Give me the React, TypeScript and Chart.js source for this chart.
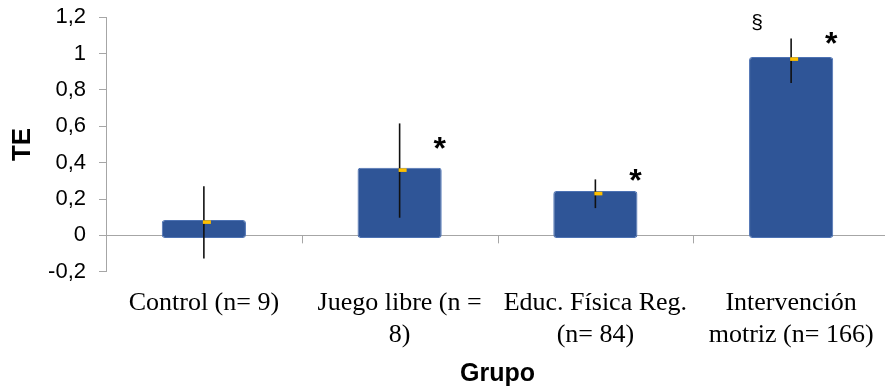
import { useEffect, useRef } from 'react';
import { Chart, registerables } from 'chart.js';

Chart.register(...registerables);

// Groups on the category axis (multi-line labels)
const groupLabels: string[][] = [
  ['Control (n= 9)'],
  ['Juego libre (n =', '8)'],
  ['Educ. Física Reg.', '(n= 84)'],
  ['Intervención', 'motriz (n= 166)'],
];

// Effect size (TE) per group
const effectSizes = [0.084, 0.372, 0.244, 0.981];
// Confidence interval bounds
const ciUpper = [0.27, 0.616, 0.308, 1.084];
const ciLower = [-0.128, 0.097, 0.15, 0.838];
// Small yellow marker inside each bar
const markerValues = [0.073, 0.359, 0.23, 0.97];
// Significance symbols: level on the TE axis (null = none)
const asteriskLevels: (number | null)[] = [null, 0.506, 0.33, 1.084];
const sectionLevels: (number | null)[] = [null, null, null, 1.172];

const Y_MIN = -0.2;
const Y_MAX = 1.2;
const Y_STEP = 0.2;

const AXIS_GREY = '#a6a6a6';

function formatTick(v: number): string {
  const r = Math.round(v * 10) / 10;
  return String(r).replace('.', ',');
}

const overlayPlugin = {
  id: 'overlay',
  beforeDatasetsDraw(chart: any) {
    const { ctx, scales } = chart;
    const x = scales.x;
    const y = scales.y;
    const zeroY = y.getPixelForValue(0);
    const half = (x.getPixelForValue(1) - x.getPixelForValue(0)) / 2;
    ctx.save();
    ctx.strokeStyle = AXIS_GREY;
    ctx.lineWidth = 1;
    for (let i = 0; i < groupLabels.length; i++) {
      const px = Math.round(x.getPixelForValue(i) + half) + 0.5;
      ctx.beginPath();
      ctx.moveTo(px, zeroY);
      ctx.lineTo(px, zeroY + 8);
      ctx.stroke();
    }
    ctx.restore();
  },
  afterDatasetsDraw(chart: any) {
    const { ctx, scales } = chart;
    const x = scales.x;
    const y = scales.y;
    ctx.save();
    for (let i = 0; i < effectSizes.length; i++) {
      const cx = x.getPixelForValue(i);
      // interval line
      ctx.strokeStyle = '#111111';
      ctx.lineWidth = 1.6;
      ctx.beginPath();
      ctx.moveTo(cx, y.getPixelForValue(ciUpper[i]));
      ctx.lineTo(cx, y.getPixelForValue(ciLower[i]));
      ctx.stroke();
      // marker
      const my = y.getPixelForValue(markerValues[i]);
      ctx.fillStyle = '#ffc000';
      ctx.fillRect(cx - 1, my - 1.8, 8, 3.6);
    }
    const drawCentered = (text: string, font: string, cx: number, cy: number) => {
      ctx.font = font;
      ctx.textAlign = 'center';
      ctx.textBaseline = 'alphabetic';
      const m = ctx.measureText(text);
      const base = cy + (m.actualBoundingBoxAscent - m.actualBoundingBoxDescent) / 2;
      ctx.fillStyle = '#000';
      ctx.fillText(text, cx, base);
    };
    for (let i = 0; i < effectSizes.length; i++) {
      const cx = x.getPixelForValue(i);
      const a = asteriskLevels[i];
      if (a !== null) {
        drawCentered('*', 'bold 32px "Liberation Sans", Arial, sans-serif', cx + 40, y.getPixelForValue(a));
      }
      const s = sectionLevels[i];
      if (s !== null) {
        drawCentered('§', '21px "Liberation Sans", Arial, sans-serif', cx - 34, y.getPixelForValue(s));
      }
    }
    ctx.restore();
  },
};

export default function App() {
  const canvasRef = useRef<HTMLCanvasElement | null>(null);

  useEffect(() => {
    const canvas = canvasRef.current;
    if (!canvas) return;
    const chart = new Chart(canvas, {
      type: 'bar',
      data: {
        labels: groupLabels,
        datasets: [
          {
            data: effectSizes,
            backgroundColor: '#2f5597',
            borderColor: '#4d72b3',
            borderWidth: 1,
            borderRadius: 3,
            borderSkipped: false,
            base: -0.014,
            barPercentage: 0.43,
            categoryPercentage: 1,
          },
        ],
      },
      options: {
        responsive: false,
        animation: false,
        devicePixelRatio: 1,
        layout: { padding: { top: 17.3, right: 6, bottom: 0, left: 0 } },
        plugins: {
          legend: { display: false },
          tooltip: { enabled: false },
        },
        scales: {
          x: {
            grid: { display: false },
            border: { display: false },
            ticks: {
              autoSkip: false,
              maxRotation: 0,
              minRotation: 0,
              padding: 8,
              color: '#000',
              font: { family: '"Liberation Serif", "Times New Roman", serif', size: 26, lineHeight: 1.22 },
            },
            title: {
              display: true,
              text: 'Grupo',
              color: '#000',
              padding: { top: 0, bottom: 1 },
              font: { family: '"Liberation Sans", Arial, sans-serif', size: 25, weight: 'bold', lineHeight: 1.0 },
            },
            afterFit(scale: any) {
              scale.height = 116.3;
            },
          },
          y: {
            min: Y_MIN,
            max: Y_MAX,
            border: { display: true, color: AXIS_GREY, width: 1 },
            grid: {
              color: (c: any) => (c.tick && Math.abs(c.tick.value) < 1e-9 ? AXIS_GREY : 'rgba(0,0,0,0)'),
              tickColor: AXIS_GREY,
              tickLength: 7,
              lineWidth: 1,
            },
            ticks: {
              stepSize: Y_STEP,
              padding: 13,
              color: '#000',
              font: { family: '"Liberation Sans", Arial, sans-serif', size: 22 },
              callback: (v: any) => formatTick(Number(v)),
            },
            title: {
              display: true,
              text: 'TE',
              color: '#000',
              padding: { top: 7, bottom: 0 },
              font: { family: '"Liberation Sans", Arial, sans-serif', size: 26, weight: 'bold', lineHeight: 1.2 },
            },
            afterFit(scale: any) {
              scale.width = 106;
              scale.paddingTop = 0;
              scale.paddingBottom = 0;
            },
          },
        },
      },
      plugins: [overlayPlugin],
    });
    return () => chart.destroy();
  }, []);

  return (
    <div
      style={{
        position: 'fixed',
        left: 0,
        top: 0,
        width: 885,
        height: 388,
        overflow: 'hidden',
        background: '#fff',
      }}
    >
      <canvas ref={canvasRef} width={895} height={388} style={{ display: 'block', width: 895, height: 388 }} />
    </div>
  );
}
